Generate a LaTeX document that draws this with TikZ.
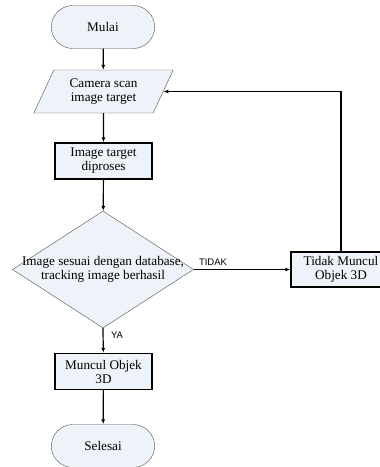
\documentclass[tikz,border=0pt]{standalone}
\usepackage{fontspec}
\setmainfont{Liberation Serif}
\newfontfamily\labelfont{Liberation Sans}
\usetikzlibrary{shapes.geometric,shapes.misc,arrows.meta}
\definecolor{boxfill}{RGB}{238,242,249}
\definecolor{edgegray}{RGB}{80,80,80}
\tikzset{
  terminal/.style={rounded rectangle, draw=edgegray, fill=boxfill, minimum width=110pt, minimum height=43pt},
  inout/.style={trapezium, trapezium left angle=65, trapezium right angle=115, draw=edgegray, fill=boxfill, minimum width=137pt, minimum height=43pt, align=center},
  process/.style={rectangle, draw, line width=1.4pt, fill=boxfill, minimum width=97pt, minimum height=36pt, align=center},
  decision/.style={diamond, draw=edgegray, fill=boxfill, minimum width=181pt, minimum height=117pt, inner sep=0pt},
  flow/.style={line width=1.2pt, -{Latex[length=5pt,width=4pt]}},
  branch/.style={font=\labelfont\fontsize{9.5}{11}\selectfont}
}
\begin{document}
\begin{tikzpicture}[x=1pt, y=-1pt, font=\fontsize{13.2}{14}\selectfont]
\useasboundingbox (0,0) rectangle (380,467);

\node [terminal] (mulai) at (103,27) {Mulai};
\node [inout] (camera) at (103.5,91.5) {Camera scan\\image target};
\node [process] (proses) at (103.5,161) {Image target\\diproses};
\node [decision] (cek) at (103,269.5) {};
\node [align=center] (cektext) at (cek) {Image sesuai dengan database,\\tracking image berhasil};
\node [process] (muncul) at (103.5,371.5) {Muncul Objek\\3D};
\node [process, minimum width=100pt, minimum height=35pt] (tidak) at (341,269.5) {Tidak Muncul\\Objek 3D};
\node [terminal] (selesai) at (103,446) {Selesai};

\draw [flow] (mulai) -- (camera);
\draw [flow] (camera) -- (proses);
\draw [flow] (proses) -- (cek);
\draw [flow] (cek.east) -- node [branch, above, pos=0.2] (tidaklabel) {TIDAK} (tidak.west);
\draw [flow] (cek.south) -- node [branch, right, pos=0.3, xshift=4pt] (yalabel) {YA} (muncul);
\draw [flow] (muncul) -- (selesai);
\draw [flow] (tidak.north) |- (camera.east);
\end{tikzpicture}
\end{document}
